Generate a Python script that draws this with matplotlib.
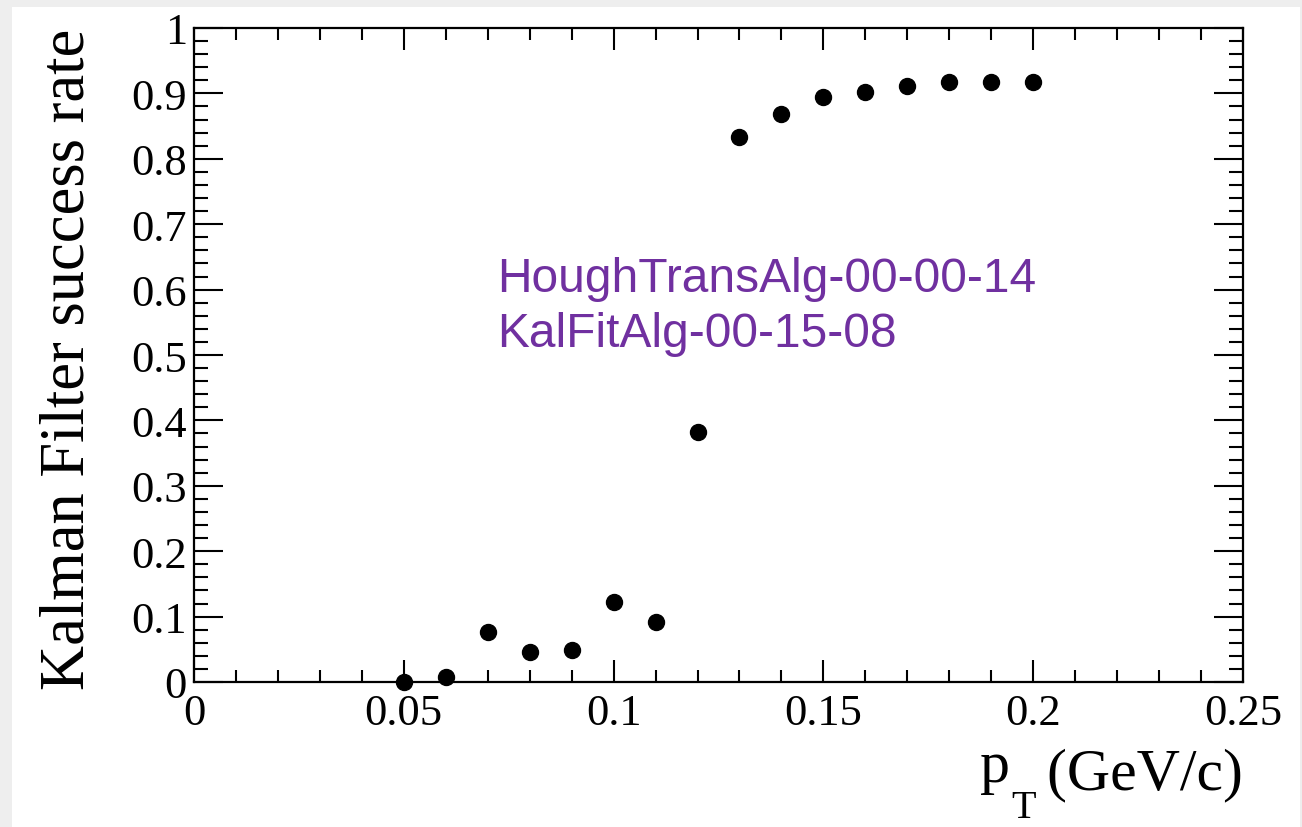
import numpy as np
import matplotlib
matplotlib.use('Agg')
import matplotlib.pyplot as plt
from matplotlib.patches import Rectangle
from matplotlib.ticker import MultipleLocator

# dados
pt = [0.05, 0.06, 0.07, 0.08, 0.09, 0.10, 0.11, 0.12,
      0.13, 0.14, 0.15, 0.16, 0.17, 0.18, 0.19, 0.20]
taxa = [0.0, 0.007, 0.077, 0.046, 0.049, 0.122, 0.092, 0.383,
        0.833, 0.869, 0.894, 0.902, 0.911, 0.918, 0.918, 0.918]

xticks = [0, 0.05, 0.1, 0.15, 0.2, 0.25]
xtick_lbl = ['0', '0.05', '0.1', '0.15', '0.2', '0.25']
yticks = np.arange(0, 1.01, 0.1)
ytick_lbl = ['0', '0.1', '0.2', '0.3', '0.4', '0.5', '0.6', '0.7', '0.8', '0.9', '1']

rotulo_y = 'Kalman Filter success rate'
versoes = ['HoughTransAlg-00-00-14', 'KalFitAlg-00-15-08']
roxo = '#7030a0'

plt.rcParams['font.family'] = 'Liberation Serif'

fig = plt.figure(figsize=(13.02, 8.28), dpi=100, facecolor='#eeeeee')
# moldura clara do slide
fig.patches.append(Rectangle((12/1302, 0), 1288/1302, 820/828,
                             transform=fig.transFigure, facecolor='white',
                             edgecolor='none', zorder=-10))

ax = fig.add_axes([194/1302, 145/828, 1049/1302, 654/828])
ax.plot(pt, taxa, 'o', color='black', ms=11.5, clip_on=False, zorder=5)

ax.set_xlim(0, 0.25)
ax.set_ylim(0, 1)
ax.set_xticks(xticks)
ax.set_xticklabels(xtick_lbl)
ax.set_yticks(yticks)
ax.set_yticklabels(ytick_lbl)
ax.xaxis.set_minor_locator(MultipleLocator(0.01))
ax.yaxis.set_minor_locator(MultipleLocator(0.02))

for s in ax.spines.values():
    s.set_linewidth(1.6)
ax.tick_params(axis='both', which='both', direction='in', top=True, right=True,
               width=1.5, labelsize=32)
ax.tick_params(axis='x', which='major', length=16, pad=8)
ax.tick_params(axis='x', which='minor', length=8.5)
ax.tick_params(axis='y', which='major', length=21, pad=5)
ax.tick_params(axis='y', which='minor', length=10)

ax.set_ylabel(rotulo_y, fontsize=45, loc='top', labelpad=24)

# rotulo do eixo x: "p" com indice "T" bem abaixo, estilo ROOT
lbl = ax.set_xlabel(' (GeV/c)', fontsize=43, loc='right', labelpad=10)
p = ax.annotate('p', xy=(0, 0), xycoords=lbl, xytext=(-16, 5),
                textcoords='offset points', fontsize=43, ha='right', va='bottom')
ax.annotate('T', xy=(1, 0), xycoords=p, xytext=(1, -23),
            textcoords='offset points', fontsize=29, ha='left', va='bottom')

ax.text(0.0722, 0.617, versoes[0], family='Liberation Sans', fontsize=34.5,
        color=roxo, va='center', ha='left')
ax.text(0.0722, 0.533, versoes[1], family='Liberation Sans', fontsize=34.5,
        color=roxo, va='center', ha='left')

plt.savefig('out.png', dpi=100, facecolor=fig.get_facecolor())
